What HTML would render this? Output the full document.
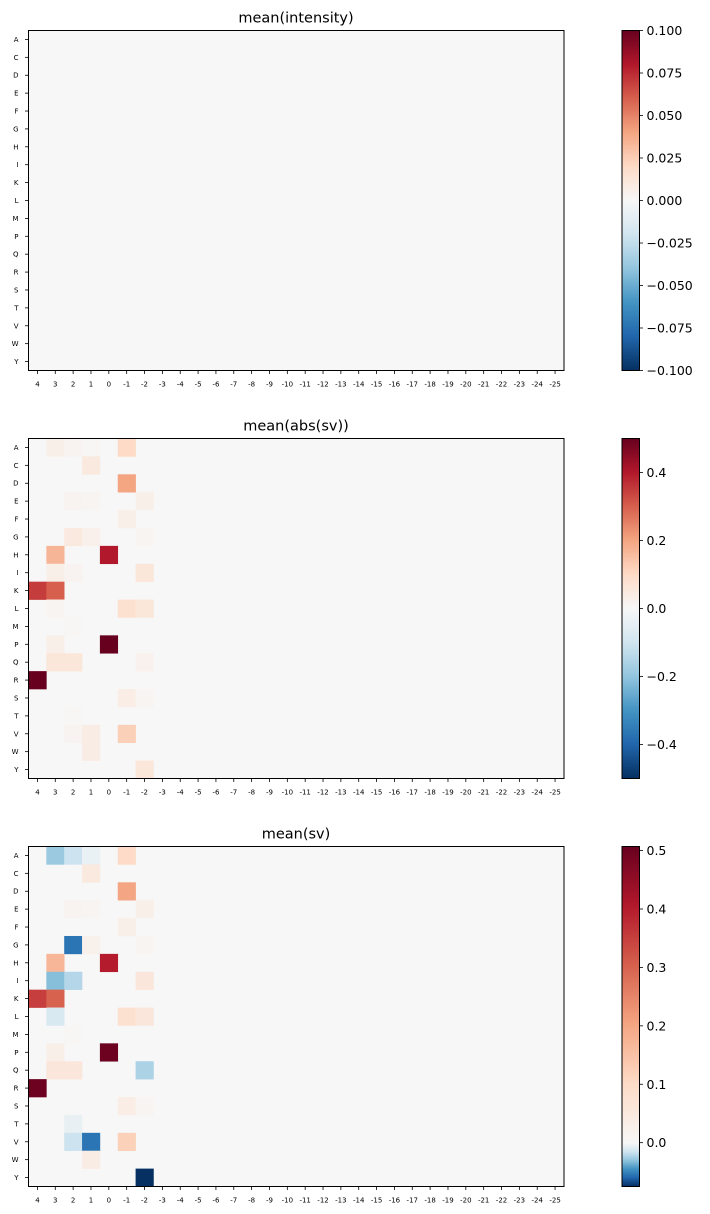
<!DOCTYPE html>
<html><head><meta charset="utf-8"><style>
html,body{margin:0;padding:0;background:#fff;}
svg{display:block;font-family:"DejaVu Sans","Liberation Sans",sans-serif;}
</style></head><body>
<svg id="fig" width="710" height="1214" viewBox="0 0 710 1214"></svg>
<script>
const rows = ["A","C","D","E","F","G","H","I","K","L","M","P","Q","R","S","T","V","W","Y"];
const cols = ["4","3","2","1","0","-1","-2","-3","-4","-5","-6","-7","-8","-9","-10","-11","-12","-13","-14","-15","-16","-17","-18","-19","-20","-21","-22","-23","-24","-25"];
// nonzero cells: [row, colIndex, value]
const cellsIntensity = [];
const cellsAbsSv = [
 ["A",1,0.03],["A",2,0.015],["A",3,0.005],["A",5,0.1],
 ["C",3,0.05],["D",5,0.2],
 ["E",2,0.015],["E",3,0.01],["E",6,0.03],
 ["F",5,0.03],
 ["G",2,0.05],["G",3,0.025],["G",6,0.01],
 ["H",1,0.17],["H",4,0.4],
 ["I",1,0.03],["I",2,0.015],["I",6,0.06],
 ["K",0,0.35],["K",1,0.3],
 ["L",1,0.01],["L",5,0.08],["L",6,0.06],
 ["M",2,0.005],
 ["P",1,0.03],["P",4,0.5],
 ["Q",1,0.06],["Q",2,0.06],["Q",6,0.02],
 ["R",0,0.5],
 ["S",5,0.035],["S",6,0.01],
 ["T",2,0.005],
 ["V",2,0.015],["V",3,0.04],["V",5,0.12],
 ["W",3,0.04],["Y",6,0.06]
];
const cellsSv = [
 ["A",1,-0.028],["A",2,-0.016],["A",3,-0.005],["A",5,0.1],
 ["C",3,0.05],["D",5,0.2],
 ["E",2,0.015],["E",3,0.01],["E",6,0.03],
 ["F",5,0.03],
 ["G",2,-0.055],["G",3,0.025],["G",6,0.01],
 ["H",1,0.17],["H",4,0.4],
 ["I",1,-0.032],["I",2,-0.022],["I",6,0.06],
 ["K",0,0.35],["K",1,0.3],
 ["L",1,-0.012],["L",5,0.08],["L",6,0.06],
 ["M",2,0.005],
 ["P",1,0.03],["P",4,0.5],
 ["Q",1,0.06],["Q",2,0.06],["Q",6,-0.024],
 ["R",0,0.5],
 ["S",5,0.035],["S",6,0.01],
 ["T",2,-0.006],
 ["V",2,-0.016],["V",3,-0.055],["V",5,0.12],
 ["W",3,0.04],["Y",6,-0.075]
];
const ticks1 = [0.1,0.075,0.05,0.025,0,-0.025,-0.05,-0.075,-0.1];
const tickLabels1 = ["0.100","0.075","0.050","0.025","0.000","−0.025","−0.050","−0.075","−0.100"];
const ticks2 = [0.4,0.2,0,-0.2,-0.4];
const tickLabels2 = ["0.4","0.2","0.0","−0.2","−0.4"];
const ticks3 = [0.5,0.4,0.3,0.2,0.1,0];
const tickLabels3 = ["0.5","0.4","0.3","0.2","0.1","0.0"];

const stops=["#053061","#2166ac","#4393c3","#92c5de","#d1e5f0","#f7f7f7","#fddbc7","#f4a582","#d6604d","#b2182b","#67001f"];
function hex(h){return [1,3,5].map(i=>parseInt(h.substr(i,2),16));}
function rdbu(t){t=Math.max(0,Math.min(1,t));const p=t*10;const i=Math.min(9,Math.floor(p));const f=p-i;const a=hex(stops[i]),b=hex(stops[i+1]);return "rgb("+a.map((v,k)=>Math.round(v+(b[k]-v)*f)).join(",")+")";}
const svg=document.getElementById('fig');const NS="http://www.w3.org/2000/svg";
function mk(tag,attrs,parent){const e=document.createElementNS(NS,tag);for(const k in attrs)e.setAttribute(k,attrs[k]);(parent||svg).appendChild(e);return e;}

function panel(top,title,cells,vmin,vmax,ticks,tickLabels,name){
 const L=28.5,R=564,T=top,B=top+340;
 const cw=(R-L)/cols.length,ch=(B-T)/rows.length;
 const norm=v=> v>=0 ? 0.5+0.5*v/vmax : 0.5-0.5*v/vmin;
 const g=mk('g',{});
 
 
 const t=mk('text',{x:296,y:T-8,'text-anchor':'middle','font-size':'14.5'},g);t.textContent=title;
 
 
 const bg=mk('rect',{x:L,y:T,width:R-L,height:B-T,fill:rdbu(0.5)},g);
 
 
 cells.forEach(c=>{const r=rows.indexOf(c[0]);
  const e=mk('rect',{x:L+c[1]*cw,y:T+r*ch,width:cw+0.3,height:ch+0.3,fill:rdbu(norm(c[2]))},g);
  
  });
 mk('rect',{x:L,y:T,width:R-L,height:B-T,fill:'none',stroke:'#000','stroke-width':1},g);
 rows.forEach((r,i)=>{const y=T+(i+0.5)*ch;mk('line',{x1:L-3.5,x2:L,y1:y,y2:y,stroke:'#000','stroke-width':0.8},g);
  const tx=mk('text',{x:L-10,y:y+2.5,'text-anchor':'end','font-size':'7'},g);tx.textContent=r;
  
  });
 cols.forEach((c,i)=>{const x=L+(i+0.5)*cw;mk('line',{x1:x,x2:x,y1:B,y2:B+3.5,stroke:'#000','stroke-width':0.8},g);
  const tx=mk('text',{x:x,y:B+16,'text-anchor':'middle','font-size':'7'},g);tx.textContent=c;
  
  });
 // colorbar
 const cx=622,cwid=17.5;const cb=mk('g',{},g);
 
 
 const yv=v=>T+(vmax-v)/(vmax-vmin)*340;
 const n=170;for(let k=0;k<n;k++){const v=vmax-(k+0.5)/n*(vmax-vmin);mk('rect',{x:cx,y:T+k*340/n,width:cwid,height:340/n+0.4,fill:rdbu(norm(v))},cb);}
 mk('rect',{x:cx,y:T,width:cwid,height:340,fill:'none',stroke:'#000','stroke-width':1},cb);
 ticks.forEach((v,i)=>{const y=yv(v);mk('line',{x1:cx+cwid,x2:cx+cwid+3.5,y1:y,y2:y,stroke:'#000','stroke-width':0.8},cb);
  const tx=mk('text',{x:cx+cwid+7,y:y+4.5,'font-size':'12.5'},cb);tx.textContent=tickLabels[i];
  
  });
}
panel(30.5,"mean(intensity)",cellsIntensity,-0.1,0.1,ticks1,tickLabels1,"intensity");
panel(438.5,"mean(abs(sv))",cellsAbsSv,-0.5,0.5,ticks2,tickLabels2,"abs-sv");
panel(846.5,"mean(sv)",cellsSv,-0.075,0.507,ticks3,tickLabels3,"sv");
</script>
</body></html>
